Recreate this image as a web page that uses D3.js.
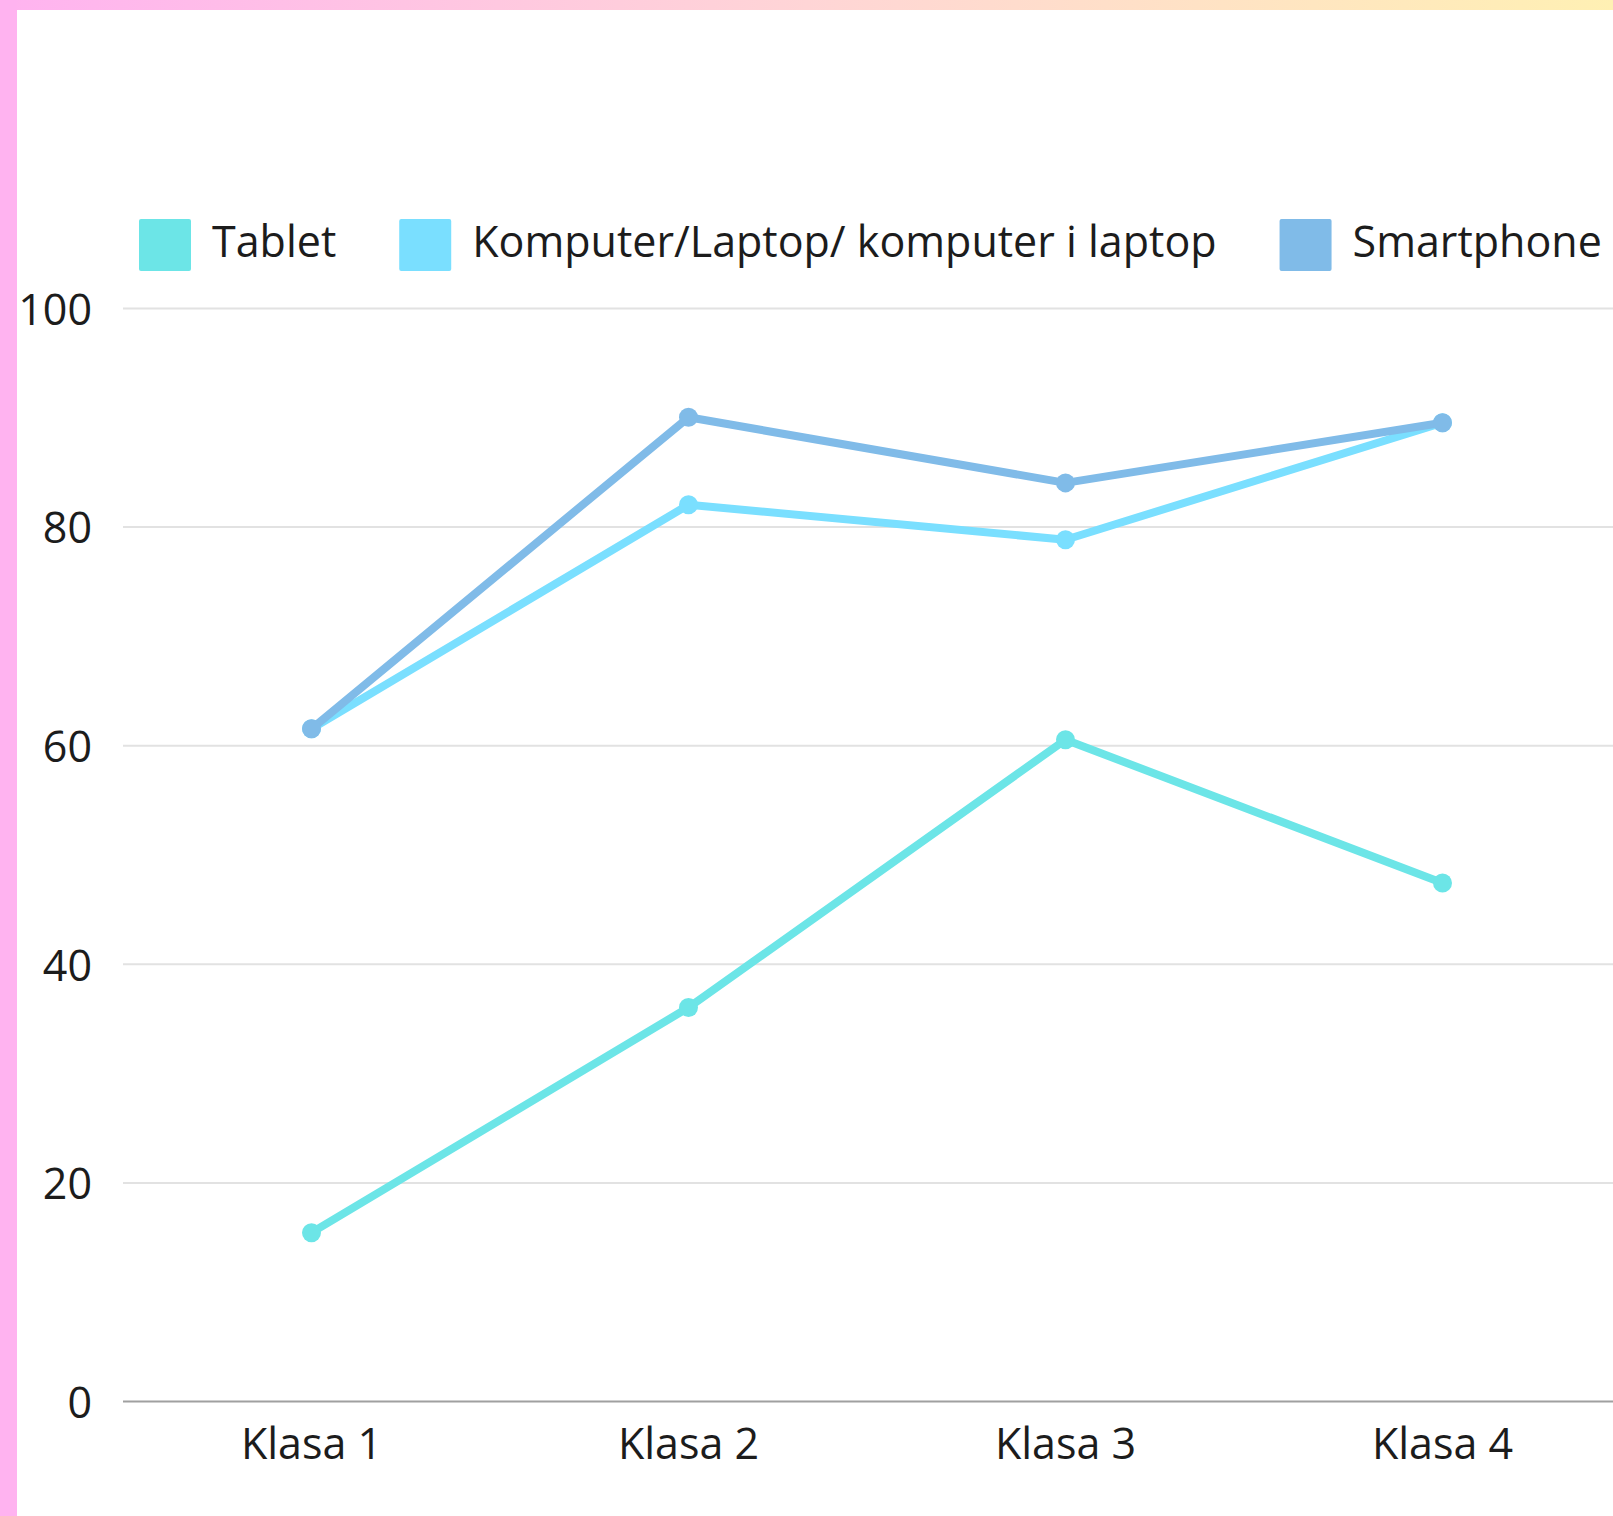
<!DOCTYPE html>
<html>
<head>
<meta charset="utf-8">
<script src="https://cdn.jsdelivr.net/npm/d3@7"></script>
<style>
  body { margin: 0; background: #fff; }
  svg { display: block; font-family: "Open Sans", sans-serif; }
  .grid line { stroke: #e2e2e2; stroke-width: 2; }
  .grid .zero line { stroke: #a0a0a0; }
  .grid text, .xaxis text, .legend text { fill: #1c1c1c; font-size: 43px; }
</style>
</head>
<body>
<svg id="chart"></svg>
<script>
// datos
const categories = ["Klasa 1", "Klasa 2", "Klasa 3", "Klasa 4"];
const seriesNames = ["Tablet", "Komputer/Laptop/ komputer i laptop", "Smartphone"];
const tablet = [15.4, 36, 60.5, 47.4];
const komputer = [61.5, 82, 78.8, 89.5];
const smartphone = [61.5, 90, 84, 89.5];
const yTicks = [0, 20, 40, 60, 80, 100];
const colors = ["#6ce5e7", "#7adfff", "#80bbe8"];

const series = [tablet, komputer, smartphone];

const width = 1613;
const height = 1516;

const svg = d3.select("#chart")
    .attr("width", width)
    .attr("height", height);

// marco de colores
const grad = svg.append("defs").append("linearGradient")
    .attr("id", "topGrad");
grad.append("stop").attr("offset", "0%").attr("stop-color", "#ffb3f0");
grad.append("stop").attr("offset", "50%").attr("stop-color", "#ffd5d6");
grad.append("stop").attr("offset", "100%").attr("stop-color", "#fff0b3");

svg.append("rect").attr("x", 0).attr("y", 0).attr("width", width).attr("height", 10)
    .attr("fill", "url(#topGrad)");
svg.append("rect").attr("x", 0).attr("y", 0).attr("width", 17).attr("height", height)
    .attr("fill", "#ffb3f0");

const left = 123;
const x = d3.scaleBand().domain(categories).range([left, 1631]);
const y = d3.scaleLinear().domain([0, 100]).range([1401, 308]);

// rejilla + eje y
const gy = svg.append("g")
    .attr("class", "grid")
    .attr("transform", `translate(${left},0)`)
    .call(d3.axisLeft(y).tickValues(yTicks).tickSize(-(width - left)).tickPadding(31));
gy.attr("font-family", null).attr("font-size", null);
gy.select(".domain").remove();
gy.selectAll(".tick").classed("zero", d => d === 0);
gy.selectAll(".tick text").attr("dy", "0.38em");

// eje x
const gx = svg.append("g")
    .attr("class", "xaxis")
    .attr("transform", `translate(0,${y(0)})`)
    .call(d3.axisBottom(x).tickSize(0).tickPadding(27));
gx.attr("font-family", null).attr("font-size", null);
gx.select(".domain").remove();

// líneas
const line = d3.line()
    .x((d, i) => x(categories[i]) + x.bandwidth() / 2)
    .y(d => y(d));

series.forEach((vals, s) => {
    svg.append("path")
        .datum(vals)
        .attr("fill", "none")
        .attr("stroke", colors[s])
        .attr("stroke-width", 8)
        .attr("stroke-linejoin", "round")
        .attr("d", line);
    svg.selectAll(".pt" + s)
        .data(vals)
        .enter()
        .append("circle")
        .attr("cx", (d, i) => x(categories[i]) + x.bandwidth() / 2)
        .attr("cy", d => y(d))
        .attr("r", 9.5)
        .attr("fill", colors[s]);
});

// leyenda
const legend = svg.append("g").attr("class", "legend");
let lx = 139;
seriesNames.forEach((name, i) => {
    legend.append("rect")
        .attr("x", lx).attr("y", 219)
        .attr("width", 52).attr("height", 52)
        .attr("rx", 2)
        .attr("fill", colors[i]);
    const t = legend.append("text")
        .attr("x", lx + 73)
        .attr("y", 257)
        .text(name);
    lx += 73 + t.node().getComputedTextLength() + 63;
});
</script>
</body>
</html>
